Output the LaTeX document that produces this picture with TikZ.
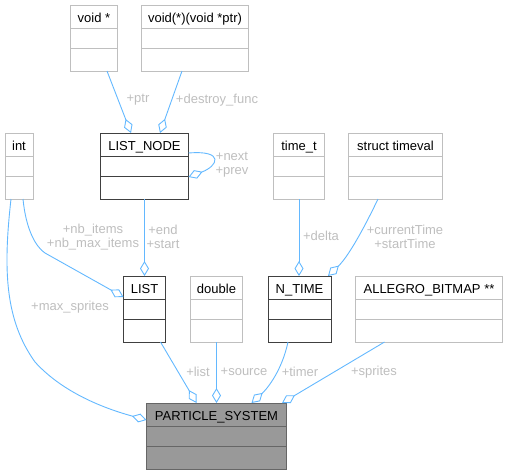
\documentclass[tikz,border=0pt]{standalone}
\usepackage{fontspec}
\setmainfont{Liberation Sans}
\usetikzlibrary{arrows.meta}
\definecolor{edgeblue}{HTML}{63B8FF}
\definecolor{lblgray}{HTML}{BEBEBE}
\definecolor{lightbd}{HTML}{BFBFBF}
\definecolor{darkbd}{HTML}{404040}
\definecolor{psbd}{HTML}{666666}
\definecolor{psfill}{HTML}{999999}
\tikzset{
  lightcls/.style={draw=lightbd, fill=white},
  darkcls/.style={draw=darkbd, fill=white},
  pscls/.style={draw=psbd, fill=psfill},
  clsbase/.style={line width=1pt, inner sep=0pt, outer sep=0pt, rectangle},
  hdr/.style={font=\fontsize{13}{14}\selectfont, inner sep=0pt, anchor=base, text=black},
  lbl/.style={font=\fontsize{13}{14}\selectfont, inner sep=0pt, text=lblgray, align=center},
  agg/.style={draw=edgeblue, line width=0.9pt, -{Diamond[open, length=15pt, width=9pt]}},
}
\newcommand\umlcls[6]{%
  \node[clsbase,#5, minimum width=#4pt, minimum height=66pt, anchor=north west] (#1) at (#2,#3) {};
  \draw[#5, fill=none, line width=1pt]
    ([yshift=-23.5pt]#1.north west) -- ([yshift=-23.5pt]#1.north east)
    ([yshift=-43pt]#1.north west) -- ([yshift=-43pt]#1.north east);
  \node[hdr] at ([yshift=-17.5pt]#1.north) {#6};%
}
\begin{document}
\begin{tikzpicture}[x=1pt, y=-1pt]
\useasboundingbox (0,0) rectangle (507,475);
% classes
\umlcls{vp}{70.5}{5}{47}{lightcls}{void *}
\umlcls{vf}{141.5}{5}{107}{lightcls}{void(*)(void *ptr)}
\umlcls{int}{5}{133}{28}{lightcls}{int}
\umlcls{ln}{100.5}{133}{88}{darkcls}{LIST\_NODE}
\umlcls{tt}{273.5}{133}{51}{lightcls}{time\_t}
\umlcls{tv}{348.5}{133}{94}{lightcls}{struct timeval}
\umlcls{list}{123.5}{276}{42}{darkcls}{LIST}
\umlcls{dbl}{190.5}{276}{52}{lightcls}{double}
\umlcls{nt}{268}{276}{63}{darkcls}{N\_TIME}
\umlcls{ab}{355.5}{276}{147}{lightcls}{ALLEGRO\_BITMAP **}
\umlcls{ps}{146.5}{403}{140}{pscls}{PARTICLE\_SYSTEM}
% connectors
\draw[agg] ([xshift=36.5pt]vp.south west) -- ([xshift=30.5pt]ln.north west);
\draw[agg] ([xshift=40.5pt]vf.south west) -- ([xshift=59.5pt]ln.north west);
\draw[agg] ([yshift=-20pt]ln.north east) .. controls (225,150) and (218,166) .. ([yshift=-44pt]ln.north east);
\draw[agg] ([xshift=18pt]int.south west) .. controls (26,230) and (36,247) .. (45,253) -- ([yshift=-21pt]list.north west);
\draw[agg] ([xshift=6pt]int.south west) .. controls (3,270) and (5,320) .. (35,362) .. controls (65,395) and (110,410) .. ([yshift=-17pt]ps.north west);
\draw[agg] (list.north |- ln.south) -- (list.north);
\draw[agg] (tt.south) -- (tt.south |- nt.north);
\draw[agg] ([xshift=29.5pt]tv.south west) .. controls (368,220) and (350,255) .. ([xshift=-3pt]nt.north east);
\draw[agg] ([xshift=37pt]list.south west) -- ([xshift=50pt]ps.north west);
\draw[agg] (dbl.south) -- (dbl.south |- ps.north);
\draw[agg] ([xshift=20pt]nt.south west) .. controls (282,370) and (268,388) .. ([xshift=105pt]ps.north west);
\draw[agg] ([xshift=29pt]ab.south west) -- ([xshift=-4.5pt]ps.north east);
% labels
\node[lbl] (lptr) at (138,100) {+ptr};
\node[lbl] (ldf) at (217,100) {+destroy\_func};
\node[lbl] (lnp) at (232,165) {+next\\+prev};
\node[lbl] (lnb) at (93,237) {+nb\_items\\+nb\_max\_items};
\node[lbl] (les) at (163,237) {+end\\+start};
\node[lbl] (lms) at (70,307) {+max\_sprites};
\node[lbl] (ldl) at (321,236) {+delta};
\node[lbl] (lct) at (405,237) {+currentTime\\+startTime};
\node[lbl] (lli) at (198,372) {+list};
\node[lbl] (lso) at (244,372) {+source};
\node[lbl] (lti) at (300,372) {+timer};
\node[lbl] (lsp) at (374,372) {+sprites};
\end{tikzpicture}
\end{document}
